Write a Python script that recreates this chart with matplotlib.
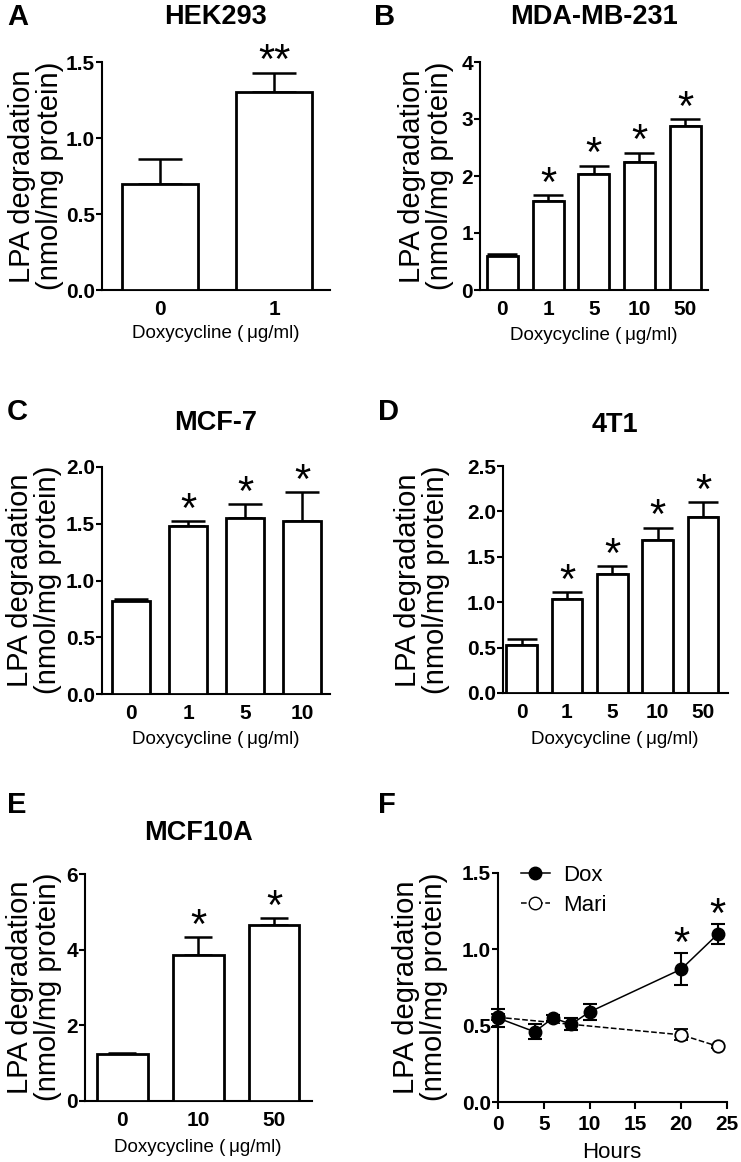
import matplotlib
matplotlib.use('Agg')
import matplotlib.pyplot as plt
from matplotlib.lines import Line2D
import numpy as np

plt.rcParams['font.family'] = ['Liberation Sans', 'DejaVu Sans']
plt.rcParams['axes.linewidth'] = 1.5

# ---------------- data ----------------
a_title = 'HEK293'
a_cats = ['0', '1']
a_vals = [0.70, 1.30]
a_err = [0.16, 0.13]
a_sig = ['', '**']

b_title = 'MDA-MB-231'
b_cats = ['0', '1', '5', '10', '50']
b_vals = [0.59, 1.57, 2.04, 2.24, 2.88]
b_err = [0.04, 0.10, 0.14, 0.17, 0.12]
b_sig = ['', '*', '*', '*', '*']

c_title = 'MCF-7'
c_cats = ['0', '1', '5', '10']
c_vals = [0.82, 1.48, 1.55, 1.52]
c_err = [0.02, 0.04, 0.12, 0.26]
c_sig = ['', '*', '*', '*']

d_title = '4T1'
d_cats = ['0', '1', '5', '10', '50']
d_vals = [0.53, 1.03, 1.31, 1.68, 1.94]
d_err = [0.07, 0.08, 0.09, 0.14, 0.16]
d_sig = ['', '*', '*', '*', '*']

e_title = 'MCF10A'
e_cats = ['0', '10', '50']
e_vals = [1.24, 3.87, 4.65]
e_err = [0.04, 0.46, 0.19]
e_sig = ['', '*', '*']

f_dox_hours = [0, 4, 6, 8, 10, 20, 24]
f_dox_vals = [0.55, 0.46, 0.55, 0.51, 0.59, 0.87, 1.10]
f_dox_err = [0.06, 0.05, 0.02, 0.04, 0.05, 0.105, 0.065]
f_dox_sig = ['', '', '', '', '', '*', '*']
f_mari_hours = [0, 20, 24]
f_mari_vals = [0.555, 0.44, 0.365]
f_mari_err = [0.02, 0.035, 0.01]
f_xticks = [0, 5, 10, 15, 20, 25]
f_yticks = [0, 0.5, 1.0, 1.5]

ylabel_text = 'LPA degradation\n(nmol/mg protein)'
xlabel_text = 'Doxycycline (\u2009\u03bcg/ml)'

# ---------------- layout ----------------
W, H = 741, 1162
fig = plt.figure(figsize=(W / 100, H / 100), dpi=100)
fig.patch.set_facecolor('white')

STAR_FS = 30


def px_axes(l, t, r, b):
    return fig.add_axes([l / W, 1 - b / H, (r - l) / W, (b - t) / H])


def ftext(x, y, s, **kw):
    fig.text(x / W, 1 - y / H, s, **kw)


def style(ax):
    for s in ['top', 'right']:
        ax.spines[s].set_visible(False)
    ax.tick_params(axis='y', length=4, width=1.5, pad=1, labelsize=15)
    for lab in ax.get_yticklabels():
        lab.set_fontweight('bold')


def bar_panel(box, cats, vals, errs, sigs, ylim, yticks, yfmt, xlim, width, capsize):
    ax = px_axes(*box)
    x = np.arange(len(cats))
    ax.bar(x, vals, width=width, color='white', edgecolor='black', linewidth=2.0, zorder=3)
    ax.errorbar(x, vals, yerr=[np.zeros(len(errs)), errs], fmt='none', ecolor='black',
                elinewidth=1.8, capsize=capsize, capthick=1.8, zorder=2)
    for xi, v, e, s in zip(x, vals, errs, sigs):
        if s:
            ax.annotate(s, (xi, v + e), xytext=(0, -0.5), textcoords='offset points',
                        ha='center', va='baseline', fontsize=STAR_FS)
    ax.set_xlim(*xlim)
    ax.set_ylim(*ylim)
    ax.set_yticks(yticks)
    ax.set_yticklabels([yfmt.format(t) for t in yticks])
    ax.set_xticks(x)
    ax.set_xticklabels(cats, fontsize=15, fontweight='bold')
    ax.tick_params(axis='x', length=0, pad=7)
    style(ax)
    return ax


axA = bar_panel((102, 62, 330, 290), a_cats, a_vals, a_err, a_sig, (0, 1.5),
                [0, 0.5, 1.0, 1.5], '{:.1f}', (-0.51, 1.49), 0.67, 16)
axB = bar_panel((480, 62, 708, 290), b_cats, b_vals, b_err, b_sig, (0, 4),
                [0, 1, 2, 3, 4], '{:.0f}', (-0.49, 4.5), 0.68, 11)
axC = bar_panel((102, 467, 330, 694), c_cats, c_vals, c_err, c_sig, (0, 2.0),
                [0, 0.5, 1.0, 1.5, 2.0], '{:.1f}', (-0.51, 3.49), 0.68, 12)
axD = bar_panel((503, 466, 728, 693), d_cats, d_vals, d_err, d_sig, (0, 2.5),
                [0, 0.5, 1.0, 1.5, 2.0, 2.5], '{:.1f}', (-0.41, 4.55), 0.68, 11)
axE = bar_panel((85, 874, 312, 1101), e_cats, e_vals, e_err, e_sig, (0, 6),
                [0, 2, 4, 6], '{:.0f}', (-0.49, 2.5), 0.67, 10)

# ---------------- panel F ----------------
axF = px_axes(498, 873, 727, 1102)
axF.errorbar(f_mari_hours, f_mari_vals, yerr=f_mari_err, fmt='o', ls='--', color='black',
             mfc='white', mec='black', ms=9, mew=1.3, lw=1.1, elinewidth=1.5,
             capsize=5, capthick=1.5, clip_on=False, zorder=3)
axF.errorbar(f_dox_hours, f_dox_vals, yerr=f_dox_err, fmt='o', ls='-', color='black',
             mfc='black', mec='black', ms=9, lw=1.1, elinewidth=1.5,
             capsize=5, capthick=1.5, clip_on=False, zorder=4)
for xh, v, e, s in zip(f_dox_hours, f_dox_vals, f_dox_err, f_dox_sig):
    if s:
        axF.annotate(s, (xh, v + e), xytext=(0, -2), textcoords='offset points',
                     ha='center', va='baseline', fontsize=STAR_FS)
axF.set_xlim(0, 25)
axF.set_ylim(0, 1.5)
axF.set_xticks(f_xticks)
axF.set_yticks(f_yticks)
axF.set_yticklabels(['{:.1f}'.format(t) for t in f_yticks])
axF.tick_params(axis='x', length=5, width=1.5, pad=4, labelsize=15)
for lab in axF.get_xticklabels():
    lab.set_fontweight('bold')
style(axF)
handles = [Line2D([], [], color='black', ls='-', marker='o', ms=9, mfc='black', lw=1.1),
           Line2D([], [], color='black', ls='--', marker='o', ms=9, mfc='white', lw=1.1)]
axF.legend(handles, ['Dox', 'Mari'], loc='upper left', bbox_to_anchor=(0.10, 1.035),
           frameon=False, fontsize=16, handlelength=1.3, handletextpad=0.6,
           labelspacing=0.4, borderpad=0, borderaxespad=0)

# ---------------- titles, labels, letters ----------------
titles = [(216, 17, a_title), (594, 17, b_title), (216, 423, c_title),
          (615, 425, d_title), (198, 833, e_title)]
for x, y, s in titles:
    ftext(x, y, s, ha='center', va='center', fontsize=19.5, fontweight='bold')

letters = [(7, 17, 'A'), (374, 17, 'B'), (7, 412, 'C'), (378, 412, 'D'),
           (7, 805, 'E'), (378, 805, 'F')]
for x, y, s in letters:
    ftext(x, y, s, ha='left', va='center', fontsize=21, fontweight='bold')

ylabels = [(36, 176), (426, 176), (34, 580), (422, 580), (34, 987), (420, 987)]
for x, y in ylabels:
    ftext(x, y, ylabel_text, ha='center', va='center', rotation=90, fontsize=21,
          linespacing=1.0)

xlabels = [(216, 333), (594, 335), (216, 739), (615, 739), (198, 1147)]
for x, y in xlabels:
    ftext(x, y, xlabel_text, ha='center', va='center', fontsize=13.5)
ftext(612, 1152, 'Hours', ha='center', va='center', fontsize=16)

fig.savefig('out.png', dpi=100, facecolor='white')
